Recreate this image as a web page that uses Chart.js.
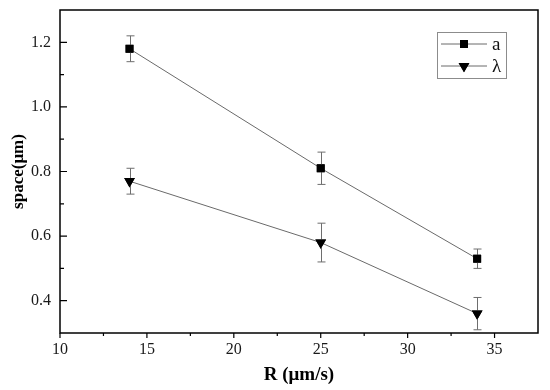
<!DOCTYPE html>
<html>
<head>
<meta charset="utf-8">
<script src="https://cdn.jsdelivr.net/npm/chart.js@4"></script>
<style>
  html, body { margin: 0; padding: 0; background: #fff; }
  #wrap { width: 550px; height: 390px; }
</style>
</head>
<body>
<div id="wrap"><canvas id="chart" width="550" height="390"></canvas></div>
<script>
// growth rate R (um/s)
const rValues = [14, 25, 34];
// series "a"
const aValues = [1.18, 0.81, 0.53];
const aErrors = [0.04, 0.05, 0.03];
// series "lambda"
const lambdaValues = [0.77, 0.58, 0.36];
const lambdaErrors = [0.04, 0.06, 0.05];

const xTicks = [10, 15, 20, 25, 30, 35];
const xMinorTicks = [12.5, 17.5, 22.5, 27.5, 32.5];
const yTicks = [0.4, 0.6, 0.8, 1.0, 1.2];
const yMinorTicks = [0.5, 0.7, 0.9, 1.1];

const serif = '"Liberation Serif", "DejaVu Serif", serif';

function points(ys) {
    return rValues.map((x, i) => ({ x: x, y: ys[i] }));
}

// error bars, frame, inside ticks and the boxed legend
const extras = {
    id: 'extras',
    afterDatasetsDraw(chart) {
        const ctx = chart.ctx;
        const xs = chart.scales.x, ys = chart.scales.y;
        const area = chart.chartArea;

        // error bars
        const errs = [aErrors, lambdaErrors];
        ctx.save();
        ctx.strokeStyle = '#6e6e6e';
        ctx.lineWidth = 1;
        chart.data.datasets.forEach((ds, d) => {
            ds.data.forEach((p, i) => {
                const px = Math.round(xs.getPixelForValue(p.x)) + 0.5;
                const top = ys.getPixelForValue(p.y + errs[d][i]);
                const bot = ys.getPixelForValue(p.y - errs[d][i]);
                ctx.beginPath();
                ctx.moveTo(px, top); ctx.lineTo(px, bot);
                ctx.moveTo(px - 4, top); ctx.lineTo(px + 4, top);
                ctx.moveTo(px - 4, bot); ctx.lineTo(px + 4, bot);
                ctx.stroke();
            });
        });
        ctx.restore();

        // redraw markers on top of the bars
        chart.data.datasets.forEach((ds, d) => {
            chart.getDatasetMeta(d).data.forEach(el => el.draw(ctx, area));
        });

        // frame
        ctx.save();
        ctx.strokeStyle = '#000';
        ctx.lineWidth = 1.5;
        ctx.strokeRect(area.left, area.top, area.right - area.left, area.bottom - area.top);

        // x ticks (outward)
        ctx.lineWidth = 1.2;
        ctx.beginPath();
        xTicks.forEach(v => {
            const px = xs.getPixelForValue(v);
            ctx.moveTo(px, area.bottom); ctx.lineTo(px, area.bottom + 5);
        });
        xMinorTicks.forEach(v => {
            const px = xs.getPixelForValue(v);
            ctx.moveTo(px, area.bottom); ctx.lineTo(px, area.bottom + 3);
        });
        // y ticks (inward)
        yTicks.forEach(v => {
            const py = ys.getPixelForValue(v);
            ctx.moveTo(area.left, py); ctx.lineTo(area.left + 7, py);
        });
        yMinorTicks.forEach(v => {
            const py = ys.getPixelForValue(v);
            ctx.moveTo(area.left, py); ctx.lineTo(area.left + 4, py);
        });
        ctx.stroke();

        // legend box
        const bx = 437, by = 32, bw = 69, bh = 46;
        ctx.strokeStyle = '#8c8c8c';
        ctx.lineWidth = 1;
        ctx.strokeRect(bx + 0.5, by + 0.5, bw, bh);
        const rows = [44, 66];
        chart.data.datasets.forEach((ds, d) => {
            const y = rows[d];
            ctx.strokeStyle = ds.borderColor;
            ctx.lineWidth = 1;
            ctx.beginPath();
            ctx.moveTo(441, y); ctx.lineTo(487, y);
            ctx.stroke();
            ctx.fillStyle = '#000';
            Chart.helpers.drawPoint(ctx, {
                pointStyle: ds.pointStyle,
                rotation: ds.pointRotation || 0,
                radius: ds.pointRadius,
                borderWidth: 0
            }, 464, y);
            ctx.fill();
            ctx.fillStyle = '#111';
            ctx.font = '19px ' + serif;
            ctx.textBaseline = 'middle';
            ctx.fillText(ds.label, 492, y + 1);
        });
        ctx.restore();
    }
};

new Chart(document.getElementById('chart'), {
    type: 'line',
    data: {
        datasets: [
            {
                label: 'a',
                data: points(aValues),
                borderColor: '#6a6a6a',
                borderWidth: 1,
                pointStyle: 'rect',
                pointRadius: 5.6,
                pointBackgroundColor: '#000',
                pointBorderColor: '#000',
                pointBorderWidth: 0
            },
            {
                label: 'λ',
                data: points(lambdaValues),
                borderColor: '#6a6a6a',
                borderWidth: 1,
                pointStyle: 'triangle',
                pointRotation: 180,
                pointRadius: 6.2,
                pointBackgroundColor: '#000',
                pointBorderColor: '#000',
                pointBorderWidth: 0
            }
        ]
    },
    options: {
        responsive: false,
        animation: false,
        layout: { padding: { top: 10, right: 12, left: 0, bottom: 0 } },
        plugins: {
            legend: { display: false },
            tooltip: { enabled: false }
        },
        scales: {
            x: {
                type: 'linear',
                min: 10,
                max: 37.5,
                grid: { display: false, drawTicks: false },
                border: { display: false },
                afterBuildTicks: s => { s.ticks = xTicks.map(v => ({ value: v })); },
                afterFit: s => {
                    s.height = 57;
                    s.paddingLeft = 0; s.paddingRight = 0;
                },
                ticks: {
                    padding: 7,
                    color: '#1a1a1a',
                    font: { family: serif, size: 16 }
                },
                title: {
                    display: true,
                    text: 'R (μm/s)',
                    color: '#000',
                    font: { family: serif, size: 19, weight: 'bold' },
                    padding: { top: 0, bottom: 4 }
                }
            },
            y: {
                min: 0.3,
                max: 1.3,
                grid: { display: false, drawTicks: false },
                border: { display: false },
                afterBuildTicks: s => { s.ticks = yTicks.map(v => ({ value: v })); },
                afterFit: s => {
                    s.width = 60;
                    s.paddingTop = 0; s.paddingBottom = 0;
                },
                ticks: {
                    padding: 9,
                    color: '#1a1a1a',
                    font: { family: serif, size: 16 },
                    callback: v => v.toFixed(1)
                },
                title: {
                    display: true,
                    text: 'space(μm)',
                    color: '#000',
                    font: { family: serif, size: 17, weight: 'bold' },
                    padding: { top: 8, bottom: 0 }
                }
            }
        }
    },
    plugins: [extras]
});
</script>
</body>
</html>
